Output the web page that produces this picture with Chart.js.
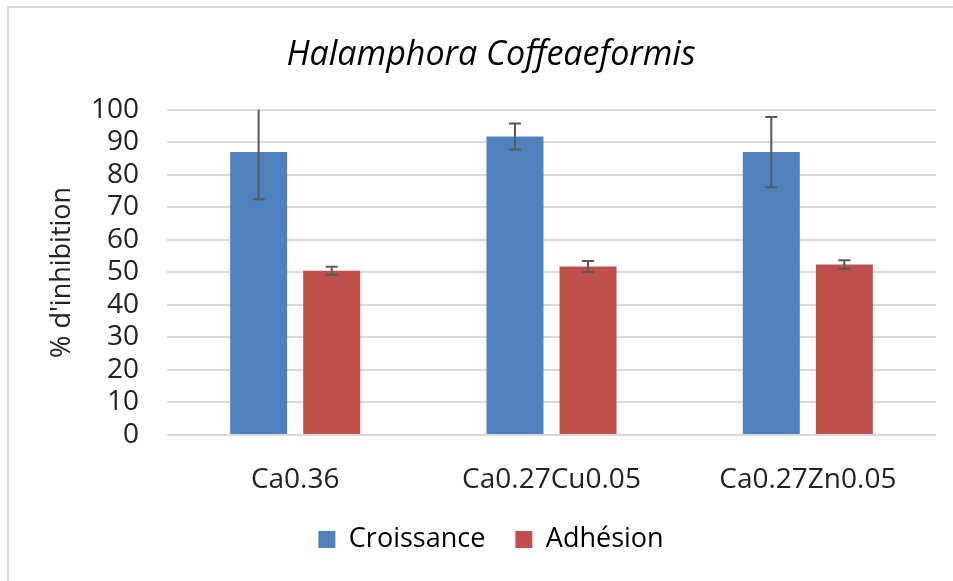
<!DOCTYPE html>
<html lang="fr">
<head>
  <meta charset="UTF-8">
  <title>Halamphora Coffeaeformis</title>
  <script src="https://cdn.jsdelivr.net/npm/chart.js"></script>
  <style>
    body { margin: 0; background: #fff; }
    #cadre {
      position: absolute; left: 7px; top: 6px;
      width: 960px; height: 590px;
      border-left: 2px solid #d9d9d9; border-top: 2px solid #d9d9d9;
    }
    #zone { position: absolute; left: 0; top: 0; width: 953px; height: 581px; }
  </style>
</head>
<body>
  <div id="cadre"></div>
  <div id="zone"><canvas id="chart"></canvas></div>

  <script>
    // Données : % d'inhibition (moyenne et écart-type)
    const materiaux = ['Ca0.36', 'Ca0.27Cu0.05', 'Ca0.27Zn0.05'];
    const croissance = [87, 91.8, 87];
    const croissanceErr = [14.5, 4, 10.8];
    const adhesion = [50.5, 51.8, 52.4];
    const adhesionErr = [1.2, 1.7, 1.3];

    const police = "'Open Sans', 'Liberation Sans', sans-serif";

    // Barres d'erreur dessinées au-dessus des barres, coupées à la zone du graphique
    const barresErreur = {
      id: 'barresErreur',
      afterDatasetsDraw(chart) {
        const ctx = chart.ctx;
        const y = chart.scales.y;
        const area = chart.chartArea;
        ctx.save();
        ctx.beginPath();
        ctx.rect(area.left, area.top, area.right - area.left, area.bottom - area.top);
        ctx.clip();
        ctx.strokeStyle = '#595959';
        ctx.lineWidth = 2;
        chart.data.datasets.forEach((ds, i) => {
          chart.getDatasetMeta(i).data.forEach((bar, j) => {
            const v = ds.data[j], e = ds.erreurs[j];
            const yHaut = y.getPixelForValue(v + e);
            const yBas = y.getPixelForValue(v - e);
            ctx.beginPath();
            ctx.moveTo(bar.x, yHaut); ctx.lineTo(bar.x, yBas);
            ctx.moveTo(bar.x - 6, yHaut); ctx.lineTo(bar.x + 6, yHaut);
            ctx.moveTo(bar.x - 6, yBas); ctx.lineTo(bar.x + 6, yBas);
            ctx.stroke();
          });
        });
        ctx.restore();
      }
    };

    new Chart(document.getElementById('chart'), {
      type: 'bar',
      data: {
        labels: materiaux,
        datasets: [
          { label: 'Croissance', data: croissance, erreurs: croissanceErr, backgroundColor: '#4f81bd' },
          { label: 'Adhésion', data: adhesion, erreurs: adhesionErr, backgroundColor: '#c0504d' }
        ]
      },
      options: {
        responsive: true,
        maintainAspectRatio: false,
        animation: false,
        categoryPercentage: 0.57,
        barPercentage: 0.78,
        layout: { padding: { left: 46, right: 17, top: 0, bottom: 18 } },
        plugins: {
          title: {
            display: true,
            text: 'Halamphora Coffeaeformis',
            color: '#000',
            font: { family: police, size: 34, style: 'italic', weight: 'normal' },
            padding: { top: 35, bottom: 34 }
          },
          legend: {
            position: 'bottom',
            labels: {
              color: '#000',
              font: { family: police, size: 27 },
              boxWidth: 17, boxHeight: 17,
              padding: 30
            }
          },
          tooltip: { enabled: false }
        },
        scales: {
          x: {
            grid: { display: false },
            border: { display: false },
            ticks: { color: '#222', font: { family: police, size: 28 }, padding: 20 },
            afterFit(s) { s.height = 61; }
          },
          y: {
            min: 0, max: 100,
            ticks: { stepSize: 10, autoSkip: false, color: '#222', font: { family: police, size: 28 }, padding: 28 },
            grid: { color: '#d9d9d9', lineWidth: 2, drawTicks: false },
            border: { display: false },
            title: {
              display: true, text: "% d'inhibition", color: '#222',
              font: { family: police, size: 27 }, padding: { top: 0, bottom: 0 }
            },
            afterFit(s) { s.width = 121; }
          }
        }
      },
      plugins: [barresErreur]
    });
  </script>
</body>
</html>
